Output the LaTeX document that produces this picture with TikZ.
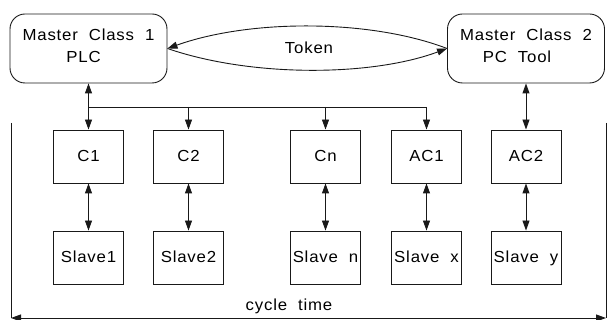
\documentclass[tikz,border=0pt]{standalone}
\usepackage{fontspec}
\setmainfont{Liberation Sans}[LetterSpace=5,FakeStretch=1.05]
\usetikzlibrary{arrows.meta}

\begin{document}
\begin{tikzpicture}[x=1pt,y=-1pt,
  line width=0.9pt, draw=black!90,
  lbl/.style={font=\fontsize{16}{22}\selectfont},
  master/.style={draw, rounded corners=15pt, minimum width=157pt, minimum height=69pt,
    align=center, inner sep=0pt, lbl},
  unit/.style={draw, minimum width=70pt, minimum height=53pt, inner sep=0pt,
    text height=11.5pt, text depth=2pt, lbl},
  link/.style={{Triangle[length=10pt,width=7pt]}-{Triangle[length=10pt,width=7pt]}},
  drop/.style={-{Triangle[length=10pt,width=7pt]}}]

\useasboundingbox (0,0) rectangle (614,320);

% masters (the strut on the last line lifts the text a little)
\node[master] (m1) at (88.5,48.5) {Master\ \ Class\ \ 1\\PLC\hspace{10pt}\rule[-5pt]{0pt}{0pt}};
\node[master] (m2) at (526,48.5) {Master\ \ Class\ \ 2\\PC\ \ Tool\hspace{18pt}\rule[-5pt]{0pt}{0pt}};

% token passing between the masters
\draw[drop] (m2.west) .. controls (370,19) and (250,19) .. (m1.east);
\draw[drop] (m1.east) .. controls (250,77) and (370,77) .. (m2.west);
\node[lbl] (tok) at (309,48) {Token};

% communication units
\node[unit] (c1)  at (88.5,156.5)  {C1};
\node[unit] (c2)  at (188.5,156.5) {C2};
\node[unit] (cn)  at (325.5,156.5) {Cn};
\node[unit] (ac1) at (426.5,156.5) {AC1};
\node[unit] (ac2) at (526,156.5)   {AC2};

% slaves
\node[unit] (s1) at (88.5,257.5)  {Slave1};
\node[unit] (s2) at (188.5,257.5) {Slave2};
\node[unit] (sn) at (325.5,257.5) {Slave\ \ n};
\node[unit] (sx) at (426.5,257.5) {Slave\ \ x};
\node[unit] (sy) at (526,257.5)   {Slave\ \ y};

% bus from master 1
\coordinate (busL) at (88.5,107);
\coordinate (busR) at (426.5,107);
\draw[link] (m1.south) -- (c1.north);
\draw (busL) -- (busR);
\draw[drop] (c2.north |- busL) -- (c2.north);
\draw[drop] (cn.north |- busL) -- (cn.north);
\draw[drop] (busR) -- (ac1.north);
\draw[link] (m2.south) -- (ac2.north);

% unit to slave links
\foreach \u/\s in {c1/s1, c2/s2, cn/sn, ac1/sx, ac2/sy}
  \draw[link] (\u.south) -- (\s.north);

% cycle time bracket
\coordinate (tl) at (11,123);
\coordinate (bl) at (11,318);
\coordinate (tr) at (606,123);
\coordinate (br) at (606,318);
\draw (tl) -- (bl);
\draw (tr) -- (br);
\draw[link] (bl) -- (br);
\node[lbl] (ct) at (289,306) {cycle\ \ time};

\end{tikzpicture}
\end{document}
